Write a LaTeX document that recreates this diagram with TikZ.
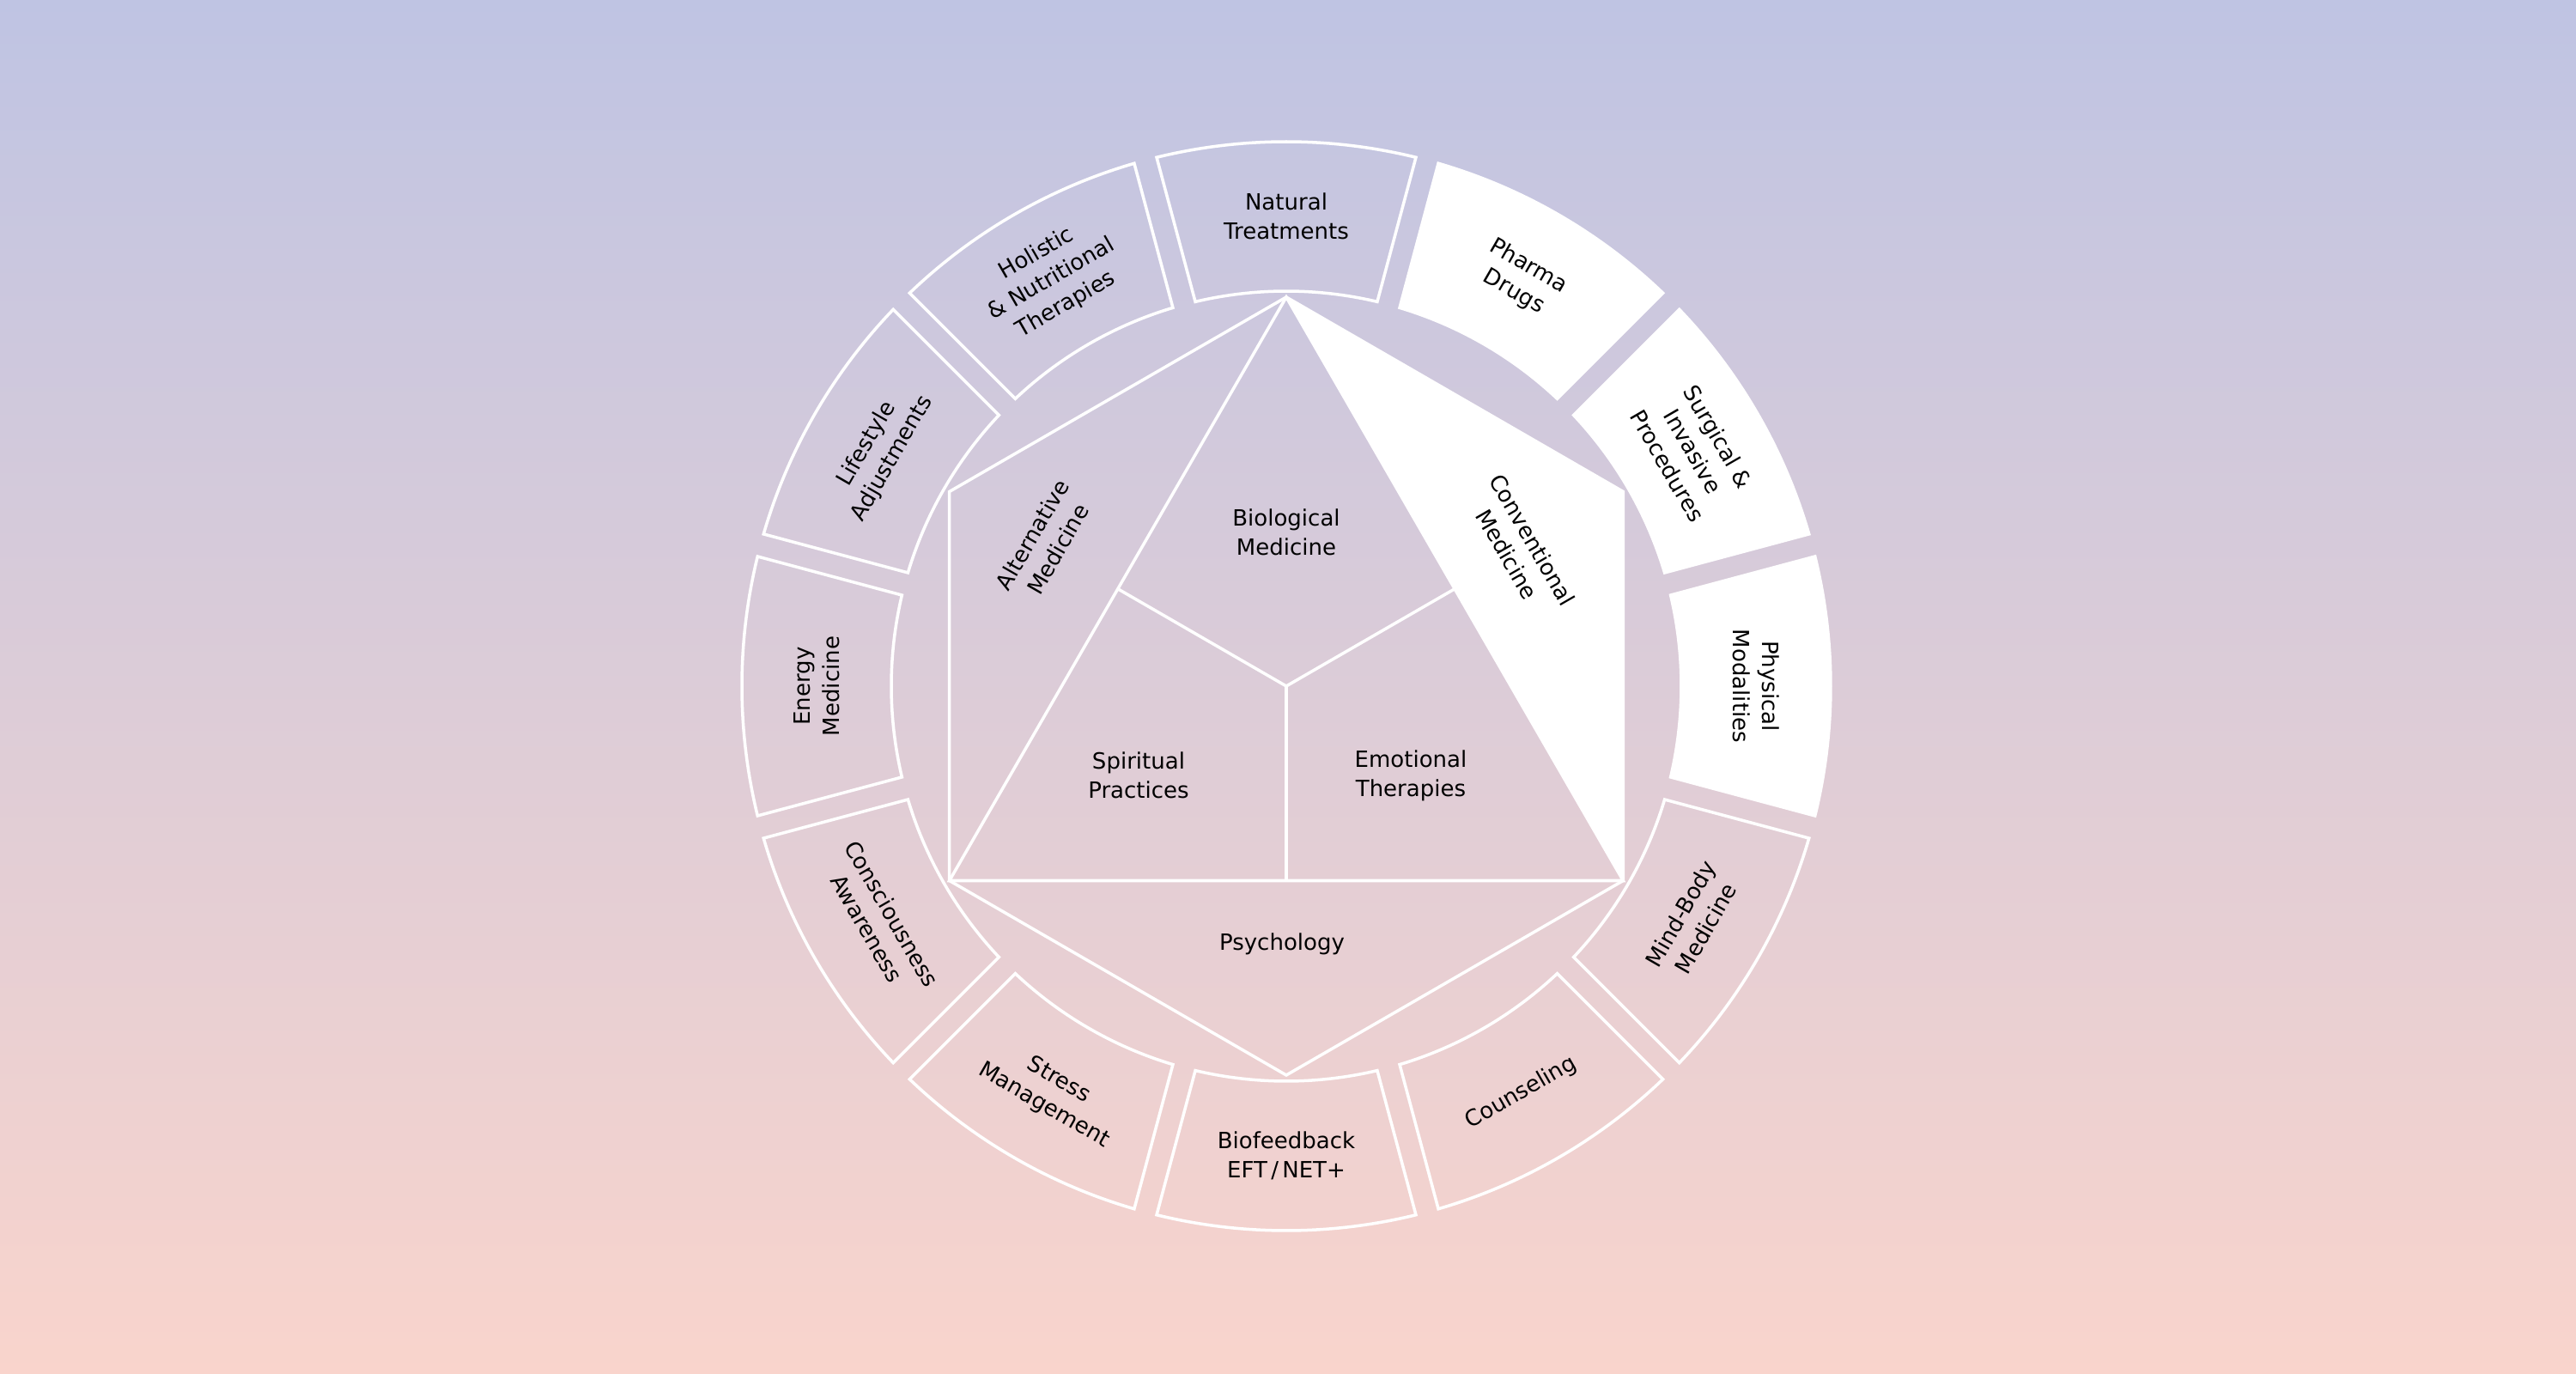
\documentclass[tikz,border=0pt]{standalone}
\usepackage{fontspec}
\setmainfont{DejaVu Sans}
\usetikzlibrary{calc,positioning}
\tikzstyle{l1}=[line width=1pt, draw=white]
\tikzstyle{segline}=[l1]
\tikzstyle{segfill}=[l1, fill=white]
\tikzstyle{lbl}=[align=center, inner sep=1pt, text=black, font=\fontsize{7.4}{9.7}\selectfont]
\definecolor{bgtop}{HTML}{BFC4E3}
\definecolor{bgbot}{HTML}{F9D4CC}

\begin{document}
\begin{tikzpicture}
    \fill[top color=bgtop, bottom color=bgbot] (-14.98,-8.01) rectangle (15.02,7.99);
    \def\ro{6.34}
    \def\ri{4.60}
    \def\gp{0.135}
    \def\hr{4.53}

    % outer ring
    \foreach \a/\rot/\sty/\txt in {
        90/0/segline/{Natural\\Treatments},
        60/-30/segfill/{Pharma\\Drugs},
        30/-60/segfill/{Surgical \&\\Invasive\\Procedures},
        0/-90/segfill/{Physical\\Modalities},
        -30/60/segline/{Mind-Body\\Medicine},
        -60/30/segline/{Counseling},
        -90/0/segline/{Biofeedback\\EFT\,/\,NET+},
        -120/-30/segline/{Stress\\Management},
        -150/-60/segline/{Consciousness\\Awareness},
        180/90/segline/{Energy\\Medicine},
        150/60/segline/{Lifestyle\\Adjustments},
        120/30/segline/{Holistic\\\& Nutritional\\Therapies}}{
        \pgfmathsetmacro\ao{asin(\gp/\ro)}
        \pgfmathsetmacro\ai{asin(\gp/\ri)}
        \draw[\sty] ({\a-15+\ao}:\ro) arc[start angle=\a-15+\ao, end angle=\a+15-\ao, radius=\ro]
            -- ({\a+15-\ai}:\ri) arc[start angle=\a+15-\ai, end angle=\a-15+\ai, radius=\ri] -- cycle;
        \node[lbl, rotate=\rot] (seg\a) at (\a:5.47) {\txt};
    }

    % hexagon and triangle
    \coordinate (c) at (0,0);
    \coordinate (t) at (90:\hr);
    \coordinate (ur) at (30:\hr);
    \coordinate (lr) at (-30:\hr);
    \coordinate (b) at (-90:\hr);
    \coordinate (ll) at (-150:\hr);
    \coordinate (ul) at (150:\hr);
    \coordinate (ml) at ($(t)!0.5!(ll)$);
    \coordinate (mr) at ($(t)!0.5!(lr)$);
    \coordinate (mb) at ($(ll)!0.5!(lr)$);

    \fill[white] (t) -- (ur) -- (lr) -- cycle;
    \draw[l1] (t) -- (ur) -- (lr) -- (b) -- (ll) -- (ul) -- cycle;
    \draw[l1] (t) -- (lr) -- (ll) -- cycle;
    \draw[l1] (c) -- (ml);
    \draw[l1] (c) -- (mr);
    \draw[l1] (c) -- (mb);

    \node[lbl] (bio) at (0,1.79) {Biological\\Medicine};
    \node[lbl] (spirit) at (-1.72,-1.04) {Spiritual\\Practices};
    \node[lbl] (emo) at (1.45,-1.04) {Emotional\\Therapies};
    \node[lbl, rotate=60] (alt) at (-2.81,1.68) {Alternative\\Medicine};
    \node[lbl, rotate=-60] (conv) at (2.72,1.62) {Conventional\\Medicine};
    \node[lbl] (psy) at (-0.05,-3.0) {Psychology};
\end{tikzpicture}
\end{document}
